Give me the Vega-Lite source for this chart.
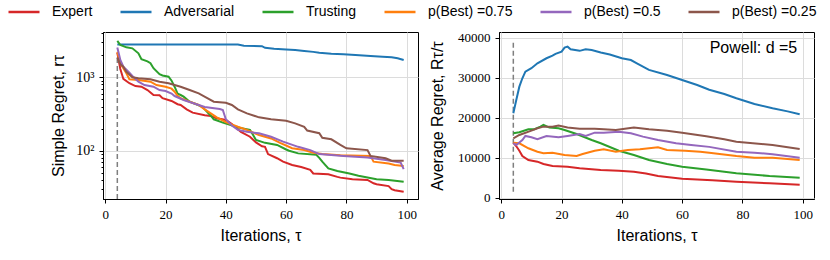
{
  "$schema": "https://vega.github.io/schema/vega-lite/v6.json",
  "padding": {"left": 7, "top": -5, "right": 5, "bottom": 5},
  "bounds": "flush",
  "spacing": 81,
  "config": {
    "font": "Liberation Sans",
    "view": {"stroke": "black", "strokeWidth": 1},
    "axis": {
      "labelFont": "Liberation Serif", "labelFontSize": 13, "labelColor": "black",
      "titleFont": "Liberation Sans", "titleFontSize": 16, "titleFontWeight": "normal", "titleColor": "black",
      "domainColor": "black", "tickColor": "black", "gridColor": "#dcdcdc", "gridWidth": 1,
      "tickSize": 4, "labelPadding": 5
    },
    "axisX": {"titlePadding": 6},
    "legend": {
      "orient": "none", "legendX": -96, "legendY": -37, "direction": "horizontal", "columns": 6,
      "symbolType": "stroke", "symbolSize": 961, "symbolStrokeWidth": 2.5,
      "labelFont": "Liberation Sans", "labelFontSize": 14, "labelColor": "black",
      "columnPadding": 22, "labelOffset": 11, "padding": 0, "title": null
    }
  },
  "datasets": {
    "left": [
      {"it":4,"s":"Expert","v":2160},{"it":5,"s":"Expert","v":1300},{"it":6,"s":"Expert","v":950},{"it":8,"s":"Expert","v":830},{"it":10,"s":"Expert","v":760},{"it":12,"s":"Expert","v":745},{"it":14,"s":"Expert","v":670},{"it":16,"s":"Expert","v":574},{"it":18,"s":"Expert","v":570},{"it":19,"s":"Expert","v":520},{"it":22,"s":"Expert","v":476},{"it":24,"s":"Expert","v":430},{"it":25,"s":"Expert","v":420},{"it":27,"s":"Expert","v":366},{"it":29,"s":"Expert","v":330},{"it":33,"s":"Expert","v":305},{"it":35,"s":"Expert","v":297},{"it":37,"s":"Expert","v":276},{"it":40,"s":"Expert","v":262},{"it":42,"s":"Expert","v":230},{"it":43,"s":"Expert","v":212},{"it":45,"s":"Expert","v":181},{"it":48,"s":"Expert","v":155},{"it":50,"s":"Expert","v":130},{"it":52,"s":"Expert","v":115},{"it":53,"s":"Expert","v":113},{"it":54,"s":"Expert","v":90},{"it":57,"s":"Expert","v":79},{"it":59,"s":"Expert","v":71},{"it":62,"s":"Expert","v":64},{"it":65,"s":"Expert","v":60},{"it":68,"s":"Expert","v":55},{"it":69,"s":"Expert","v":49},{"it":74,"s":"Expert","v":47.7},{"it":77,"s":"Expert","v":44},{"it":78,"s":"Expert","v":43},{"it":82,"s":"Expert","v":41},{"it":87,"s":"Expert","v":40},{"it":89,"s":"Expert","v":36},{"it":90,"s":"Expert","v":35},{"it":94,"s":"Expert","v":33},{"it":95,"s":"Expert","v":30},{"it":96,"s":"Expert","v":29},{"it":99,"s":"Expert","v":27.6},
      {"it":4,"s":"Adversarial","v":2800},{"it":44,"s":"Adversarial","v":2800},{"it":46,"s":"Adversarial","v":2700},{"it":52,"s":"Adversarial","v":2650},{"it":53,"s":"Adversarial","v":2520},{"it":56,"s":"Adversarial","v":2450},{"it":60,"s":"Adversarial","v":2400},{"it":63,"s":"Adversarial","v":2360},{"it":66,"s":"Adversarial","v":2290},{"it":69,"s":"Adversarial","v":2220},{"it":71,"s":"Adversarial","v":2160},{"it":75,"s":"Adversarial","v":2100},{"it":79,"s":"Adversarial","v":2060},{"it":83,"s":"Adversarial","v":2010},{"it":88,"s":"Adversarial","v":1950},{"it":92,"s":"Adversarial","v":1910},{"it":95,"s":"Adversarial","v":1870},{"it":97,"s":"Adversarial","v":1820},{"it":99,"s":"Adversarial","v":1720},
      {"it":4,"s":"Trusting","v":3125},{"it":5,"s":"Trusting","v":2755},{"it":7,"s":"Trusting","v":2560},{"it":9,"s":"Trusting","v":2480},{"it":11,"s":"Trusting","v":2125},{"it":12,"s":"Trusting","v":1760},{"it":14,"s":"Trusting","v":1650},{"it":15,"s":"Trusting","v":1560},{"it":16,"s":"Trusting","v":1330},{"it":18,"s":"Trusting","v":1100},{"it":19,"s":"Trusting","v":1060},{"it":21,"s":"Trusting","v":1019},{"it":22,"s":"Trusting","v":900},{"it":23,"s":"Trusting","v":745},{"it":24,"s":"Trusting","v":600},{"it":25,"s":"Trusting","v":574},{"it":26,"s":"Trusting","v":545},{"it":28,"s":"Trusting","v":465},{"it":30,"s":"Trusting","v":433},{"it":32,"s":"Trusting","v":400},{"it":33,"s":"Trusting","v":366},{"it":35,"s":"Trusting","v":300},{"it":36,"s":"Trusting","v":268},{"it":39,"s":"Trusting","v":241},{"it":44,"s":"Trusting","v":208},{"it":48,"s":"Trusting","v":192},{"it":49,"s":"Trusting","v":165},{"it":50,"s":"Trusting","v":140},{"it":53,"s":"Trusting","v":128},{"it":57,"s":"Trusting","v":120},{"it":60,"s":"Trusting","v":104},{"it":61,"s":"Trusting","v":100},{"it":64,"s":"Trusting","v":92},{"it":70,"s":"Trusting","v":88},{"it":71,"s":"Trusting","v":80},{"it":72,"s":"Trusting","v":71},{"it":74,"s":"Trusting","v":57.5},{"it":77,"s":"Trusting","v":53},{"it":81,"s":"Trusting","v":49},{"it":84,"s":"Trusting","v":45.6},{"it":90,"s":"Trusting","v":41},{"it":94,"s":"Trusting","v":40},{"it":99,"s":"Trusting","v":37.8},
      {"it":4,"s":"p(Best) =0.75","v":2235},{"it":5,"s":"p(Best) =0.75","v":1550},{"it":7,"s":"p(Best) =0.75","v":1135},{"it":8,"s":"p(Best) =0.75","v":940},{"it":11,"s":"p(Best) =0.75","v":920},{"it":15,"s":"p(Best) =0.75","v":871},{"it":17,"s":"p(Best) =0.75","v":785},{"it":20,"s":"p(Best) =0.75","v":745},{"it":22,"s":"p(Best) =0.75","v":700},{"it":23,"s":"p(Best) =0.75","v":637},{"it":24,"s":"p(Best) =0.75","v":560},{"it":25,"s":"p(Best) =0.75","v":518},{"it":28,"s":"p(Best) =0.75","v":465},{"it":31,"s":"p(Best) =0.75","v":420},{"it":33,"s":"p(Best) =0.75","v":366},{"it":37,"s":"p(Best) =0.75","v":285},{"it":40,"s":"p(Best) =0.75","v":245},{"it":41,"s":"p(Best) =0.75","v":236},{"it":44,"s":"p(Best) =0.75","v":212},{"it":47,"s":"p(Best) =0.75","v":192},{"it":50,"s":"p(Best) =0.75","v":170},{"it":51,"s":"p(Best) =0.75","v":164},{"it":55,"s":"p(Best) =0.75","v":147},{"it":58,"s":"p(Best) =0.75","v":128},{"it":62,"s":"p(Best) =0.75","v":108},{"it":66,"s":"p(Best) =0.75","v":102},{"it":69,"s":"p(Best) =0.75","v":94},{"it":72,"s":"p(Best) =0.75","v":90},{"it":78,"s":"p(Best) =0.75","v":87},{"it":88,"s":"p(Best) =0.75","v":85},{"it":89,"s":"p(Best) =0.75","v":71},{"it":94,"s":"p(Best) =0.75","v":67},{"it":96,"s":"p(Best) =0.75","v":64},{"it":99,"s":"p(Best) =0.75","v":62},
      {"it":4,"s":"p(Best) =0.5","v":2550},{"it":5,"s":"p(Best) =0.5","v":1720},{"it":6,"s":"p(Best) =0.5","v":1395},{"it":8,"s":"p(Best) =0.5","v":1155},{"it":9,"s":"p(Best) =0.5","v":1042},{"it":11,"s":"p(Best) =0.5","v":871},{"it":13,"s":"p(Best) =0.5","v":785},{"it":16,"s":"p(Best) =0.5","v":745},{"it":18,"s":"p(Best) =0.5","v":671},{"it":20,"s":"p(Best) =0.5","v":650},{"it":22,"s":"p(Best) =0.5","v":600},{"it":23,"s":"p(Best) =0.5","v":556},{"it":26,"s":"p(Best) =0.5","v":491},{"it":30,"s":"p(Best) =0.5","v":433},{"it":33,"s":"p(Best) =0.5","v":395},{"it":38,"s":"p(Best) =0.5","v":370},{"it":39,"s":"p(Best) =0.5","v":359},{"it":40,"s":"p(Best) =0.5","v":268},{"it":42,"s":"p(Best) =0.5","v":220},{"it":44,"s":"p(Best) =0.5","v":192},{"it":47,"s":"p(Best) =0.5","v":181},{"it":51,"s":"p(Best) =0.5","v":173},{"it":55,"s":"p(Best) =0.5","v":155},{"it":59,"s":"p(Best) =0.5","v":133},{"it":64,"s":"p(Best) =0.5","v":113},{"it":68,"s":"p(Best) =0.5","v":102},{"it":71,"s":"p(Best) =0.5","v":90},{"it":79,"s":"p(Best) =0.5","v":85},{"it":87,"s":"p(Best) =0.5","v":81},{"it":93,"s":"p(Best) =0.5","v":75},{"it":98,"s":"p(Best) =0.5","v":69},{"it":99,"s":"p(Best) =0.5","v":56},
      {"it":4,"s":"p(Best) =0.25","v":1870},{"it":5,"s":"p(Best) =0.25","v":1500},{"it":6,"s":"p(Best) =0.25","v":1395},{"it":7,"s":"p(Best) =0.25","v":1190},{"it":9,"s":"p(Best) =0.25","v":1000},{"it":11,"s":"p(Best) =0.25","v":969},{"it":15,"s":"p(Best) =0.25","v":940},{"it":18,"s":"p(Best) =0.25","v":871},{"it":21,"s":"p(Best) =0.25","v":828},{"it":25,"s":"p(Best) =0.25","v":745},{"it":28,"s":"p(Best) =0.25","v":671},{"it":31,"s":"p(Best) =0.25","v":605},{"it":34,"s":"p(Best) =0.25","v":518},{"it":36,"s":"p(Best) =0.25","v":465},{"it":40,"s":"p(Best) =0.25","v":451},{"it":42,"s":"p(Best) =0.25","v":420},{"it":44,"s":"p(Best) =0.25","v":366},{"it":47,"s":"p(Best) =0.25","v":323},{"it":51,"s":"p(Best) =0.25","v":285},{"it":55,"s":"p(Best) =0.25","v":268},{"it":60,"s":"p(Best) =0.25","v":256},{"it":63,"s":"p(Best) =0.25","v":236},{"it":66,"s":"p(Best) =0.25","v":212},{"it":67,"s":"p(Best) =0.25","v":188},{"it":71,"s":"p(Best) =0.25","v":173},{"it":72,"s":"p(Best) =0.25","v":150},{"it":75,"s":"p(Best) =0.25","v":143},{"it":78,"s":"p(Best) =0.25","v":120},{"it":80,"s":"p(Best) =0.25","v":108},{"it":87,"s":"p(Best) =0.25","v":102},{"it":88,"s":"p(Best) =0.25","v":85},{"it":93,"s":"p(Best) =0.25","v":79},{"it":95,"s":"p(Best) =0.25","v":73},{"it":99,"s":"p(Best) =0.25","v":73}
    ],
    "right": [
      {"it":4,"s":"Expert","v":13800},{"it":5,"s":"Expert","v":12900},{"it":6,"s":"Expert","v":11800},{"it":7,"s":"Expert","v":10480},{"it":9,"s":"Expert","v":9480},{"it":12,"s":"Expert","v":9060},{"it":14,"s":"Expert","v":8480},{"it":17,"s":"Expert","v":7980},{"it":22,"s":"Expert","v":7810},{"it":26,"s":"Expert","v":7410},{"it":33,"s":"Expert","v":6990},{"it":39,"s":"Expert","v":6820},{"it":44,"s":"Expert","v":6570},{"it":48,"s":"Expert","v":6100},{"it":52,"s":"Expert","v":5490},{"it":60,"s":"Expert","v":4800},{"it":65,"s":"Expert","v":4600},{"it":70,"s":"Expert","v":4450},{"it":78,"s":"Expert","v":4070},{"it":89,"s":"Expert","v":3660},{"it":99,"s":"Expert","v":3320},
      {"it":4,"s":"Adversarial","v":21130},{"it":5,"s":"Adversarial","v":24500},{"it":6,"s":"Adversarial","v":27770},{"it":7,"s":"Adversarial","v":29860},{"it":8,"s":"Adversarial","v":31520},{"it":10,"s":"Adversarial","v":32360},{"it":12,"s":"Adversarial","v":33600},{"it":15,"s":"Adversarial","v":34850},{"it":17,"s":"Adversarial","v":35500},{"it":18,"s":"Adversarial","v":35930},{"it":20,"s":"Adversarial","v":36500},{"it":21,"s":"Adversarial","v":37500},{"it":22,"s":"Adversarial","v":37750},{"it":23,"s":"Adversarial","v":37100},{"it":26,"s":"Adversarial","v":36700},{"it":28,"s":"Adversarial","v":37100},{"it":30,"s":"Adversarial","v":36900},{"it":33,"s":"Adversarial","v":36300},{"it":36,"s":"Adversarial","v":35800},{"it":40,"s":"Adversarial","v":34850},{"it":43,"s":"Adversarial","v":34400},{"it":45,"s":"Adversarial","v":33600},{"it":49,"s":"Adversarial","v":31940},{"it":55,"s":"Adversarial","v":30690},{"it":60,"s":"Adversarial","v":29440},{"it":65,"s":"Adversarial","v":28190},{"it":69,"s":"Adversarial","v":27000},{"it":74,"s":"Adversarial","v":25950},{"it":78,"s":"Adversarial","v":24870},{"it":84,"s":"Adversarial","v":23450},{"it":90,"s":"Adversarial","v":22380},{"it":95,"s":"Adversarial","v":21600},{"it":99,"s":"Adversarial","v":20880},
      {"it":4,"s":"Trusting","v":16140},{"it":6,"s":"Trusting","v":16390},{"it":9,"s":"Trusting","v":17140},{"it":11,"s":"Trusting","v":17140},{"it":13,"s":"Trusting","v":17800},{"it":14,"s":"Trusting","v":18210},{"it":16,"s":"Trusting","v":17560},{"it":19,"s":"Trusting","v":17390},{"it":21,"s":"Trusting","v":16970},{"it":25,"s":"Trusting","v":15970},{"it":30,"s":"Trusting","v":14470},{"it":33,"s":"Trusting","v":13640},{"it":39,"s":"Trusting","v":11800},{"it":44,"s":"Trusting","v":10730},{"it":49,"s":"Trusting","v":9480},{"it":55,"s":"Trusting","v":8480},{"it":60,"s":"Trusting","v":7810},{"it":68,"s":"Trusting","v":7100},{"it":78,"s":"Trusting","v":6160},{"it":89,"s":"Trusting","v":5490},{"it":99,"s":"Trusting","v":5070},
      {"it":4,"s":"p(Best) =0.75","v":13800},{"it":6,"s":"p(Best) =0.75","v":13640},{"it":9,"s":"p(Best) =0.75","v":12400},{"it":12,"s":"p(Best) =0.75","v":11550},{"it":14,"s":"p(Best) =0.75","v":11150},{"it":17,"s":"p(Best) =0.75","v":11310},{"it":21,"s":"p(Best) =0.75","v":10730},{"it":25,"s":"p(Best) =0.75","v":10480},{"it":27,"s":"p(Best) =0.75","v":10980},{"it":31,"s":"p(Best) =0.75","v":11800},{"it":34,"s":"p(Best) =0.75","v":12150},{"it":38,"s":"p(Best) =0.75","v":11550},{"it":42,"s":"p(Best) =0.75","v":11980},{"it":46,"s":"p(Best) =0.75","v":12150},{"it":52,"s":"p(Best) =0.75","v":12650},{"it":55,"s":"p(Best) =0.75","v":11980},{"it":61,"s":"p(Best) =0.75","v":11800},{"it":66,"s":"p(Best) =0.75","v":11550},{"it":69,"s":"p(Best) =0.75","v":11310},{"it":78,"s":"p(Best) =0.75","v":10480},{"it":84,"s":"p(Best) =0.75","v":10060},{"it":90,"s":"p(Best) =0.75","v":10060},{"it":99,"s":"p(Best) =0.75","v":9480},
      {"it":4,"s":"p(Best) =0.5","v":13640},{"it":5,"s":"p(Best) =0.5","v":13220},{"it":7,"s":"p(Best) =0.5","v":14470},{"it":8,"s":"p(Best) =0.5","v":15470},{"it":10,"s":"p(Best) =0.5","v":15140},{"it":12,"s":"p(Best) =0.5","v":14640},{"it":15,"s":"p(Best) =0.5","v":15470},{"it":19,"s":"p(Best) =0.5","v":15140},{"it":22,"s":"p(Best) =0.5","v":15470},{"it":26,"s":"p(Best) =0.5","v":15970},{"it":28,"s":"p(Best) =0.5","v":15470},{"it":31,"s":"p(Best) =0.5","v":16300},{"it":34,"s":"p(Best) =0.5","v":16300},{"it":39,"s":"p(Best) =0.5","v":16550},{"it":43,"s":"p(Best) =0.5","v":16140},{"it":47,"s":"p(Best) =0.5","v":15300},{"it":52,"s":"p(Best) =0.5","v":14470},{"it":58,"s":"p(Best) =0.5","v":13640},{"it":63,"s":"p(Best) =0.5","v":13220},{"it":69,"s":"p(Best) =0.5","v":12750},{"it":78,"s":"p(Best) =0.5","v":11550},{"it":84,"s":"p(Best) =0.5","v":11310},{"it":90,"s":"p(Best) =0.5","v":10900},{"it":99,"s":"p(Best) =0.5","v":10060},
      {"it":4,"s":"p(Best) =0.25","v":14890},{"it":6,"s":"p(Best) =0.25","v":15720},{"it":10,"s":"p(Best) =0.25","v":16800},{"it":12,"s":"p(Best) =0.25","v":17390},{"it":14,"s":"p(Best) =0.25","v":17800},{"it":17,"s":"p(Best) =0.25","v":17800},{"it":19,"s":"p(Best) =0.25","v":18050},{"it":22,"s":"p(Best) =0.25","v":17560},{"it":26,"s":"p(Best) =0.25","v":17300},{"it":31,"s":"p(Best) =0.25","v":17300},{"it":34,"s":"p(Best) =0.25","v":17140},{"it":38,"s":"p(Best) =0.25","v":16970},{"it":44,"s":"p(Best) =0.25","v":17560},{"it":49,"s":"p(Best) =0.25","v":17140},{"it":55,"s":"p(Best) =0.25","v":16800},{"it":60,"s":"p(Best) =0.25","v":16300},{"it":68,"s":"p(Best) =0.25","v":15400},{"it":74,"s":"p(Best) =0.25","v":14640},{"it":78,"s":"p(Best) =0.25","v":14050},{"it":90,"s":"p(Best) =0.25","v":13220},{"it":99,"s":"p(Best) =0.25","v":12230}
    ]
  },
  "hconcat": [
    {
      "width": 315, "height": 167,
      "layer": [
        {
          "data": {"values": [{"it": 4, "lo": 22, "hi": 1900}]},
          "mark": {"type": "rule", "color": "#7f7f7f", "strokeDash": [5, 3], "strokeWidth": 1.5},
          "encoding": {
            "x": {"field": "it", "type": "quantitative", "scale": {"domain": [-0.75, 103.75], "nice": false, "zero": false}},
            "y": {"field": "lo", "type": "quantitative", "scale": {"type": "log", "domain": [22, 4140], "nice": false}},
            "y2": {"field": "hi"}
          }
        },
        {
          "data": {"name": "left"},
          "mark": {"type": "line", "strokeWidth": 2, "clip": true},
          "encoding": {
            "x": {"field": "it", "type": "quantitative", "scale": {"domain": [-0.75, 103.75], "nice": false, "zero": false},
              "axis": {"title": "Iterations, τ", "values": [0, 20, 40, 60, 80, 100], "grid": true}},
            "y": {"field": "v", "type": "quantitative", "scale": {"type": "log", "domain": [22, 4140], "nice": false},
              "axis": {"title": "Simple Regret, rτ", "titlePadding": 9,
                "values": [30, 40, 50, 60, 70, 80, 90, 100, 200, 300, 400, 500, 600, 700, 800, 900, 1000, 2000, 3000, 4000],
                "labelExpr": "datum.value == 100 ? '10²' : (datum.value == 1000 ? '10³' : '')",
                "labelFontSize": 14,
                "grid": true,
                "gridOpacity": {"condition": {"test": "datum.value == 100 || datum.value == 1000", "value": 1}, "value": 0},
                "tickSize": {"condition": {"test": "datum.value == 100 || datum.value == 1000", "value": 4}, "value": 2}}},
            "color": {"field": "s", "type": "nominal",
              "scale": {"domain": ["Expert", "Adversarial", "Trusting", "p(Best) =0.75", "p(Best) =0.5", "p(Best) =0.25"],
                        "range": ["#d62728", "#1f77b4", "#2ca02c", "#ff7f0e", "#9467bd", "#8c564b"]}}
          }
        }
      ]
    },
    {
      "width": 315, "height": 167,
      "layer": [
        {
          "data": {"values": [{"it": 4, "lo": 1570, "hi": 39400}]},
          "mark": {"type": "rule", "color": "#7f7f7f", "strokeDash": [5, 3], "strokeWidth": 1.5},
          "encoding": {
            "x": {"field": "it", "type": "quantitative", "scale": {"domain": [-0.75, 103.75], "nice": false, "zero": false}},
            "y": {"field": "lo", "type": "quantitative", "scale": {"domain": [-250, 41400], "nice": false, "zero": false}},
            "y2": {"field": "hi"}
          }
        },
        {
          "data": {"name": "right"},
          "mark": {"type": "line", "strokeWidth": 2, "clip": true},
          "encoding": {
            "x": {"field": "it", "type": "quantitative", "scale": {"domain": [-0.75, 103.75], "nice": false, "zero": false},
              "axis": {"title": "Iterations, τ", "values": [0, 20, 40, 60, 80, 100], "grid": true}},
            "y": {"field": "v", "type": "quantitative", "scale": {"domain": [-250, 41400], "nice": false, "zero": false},
              "axis": {"title": "Average Regret, Rτ/τ", "titlePadding": 12, "values": [0, 10000, 20000, 30000, 40000], "format": "d", "grid": true}},
            "color": {"field": "s", "type": "nominal",
              "scale": {"domain": ["Expert", "Adversarial", "Trusting", "p(Best) =0.75", "p(Best) =0.5", "p(Best) =0.25"],
                        "range": ["#d62728", "#1f77b4", "#2ca02c", "#ff7f0e", "#9467bd", "#8c564b"]}}
          }
        },
        {
          "data": {"values": [{"it": 98.2, "v": 36200, "label": "Powell: d =5"}]},
          "mark": {"type": "text", "align": "right", "baseline": "alphabetic", "fontSize": 16, "font": "Liberation Sans", "color": "black"},
          "encoding": {
            "x": {"field": "it", "type": "quantitative"},
            "y": {"field": "v", "type": "quantitative"},
            "text": {"field": "label"}
          }
        }
      ]
    }
  ]
}
